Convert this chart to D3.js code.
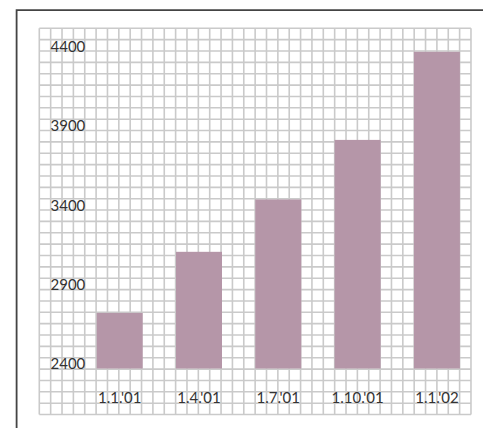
<!DOCTYPE html>
<html>
<head>
<meta charset="utf-8">
<script src="https://cdn.jsdelivr.net/npm/d3@7"></script>
<style>
  html, body { margin: 0; padding: 0; background: #fff; }
  svg { display: block; }
  text { font-family: "Lato", "DejaVu Sans", sans-serif; font-weight: 400; fill: #333; }
</style>
</head>
<body>
<svg id="chart" width="483" height="428"></svg>
<script>
// Quarterly values
const categories = ["1.1.'01", "1.4.'01", "1.7.'01", "1.10.'01", "1.1.'02"];
const values = [2750, 3135, 3465, 3840, 4395];
const yTicks = [2400, 2900, 3400, 3900, 4400];

const svg = d3.select("#chart");

// Graph-paper background
const grid = { x0: 39.3, y0: 28.3, cell: 11.36, cols: 38, rows: 34 };
const gx1 = grid.x0 + grid.cols * grid.cell;
const gy1 = grid.y0 + grid.rows * grid.cell;
const gridG = svg.append("g").attr("stroke", "#cacaca").attr("stroke-width", 1.6);
gridG.selectAll("line.v").data(d3.range(grid.cols + 1)).join("line")
  .attr("class", "v")
  .attr("x1", i => grid.x0 + i * grid.cell).attr("x2", i => grid.x0 + i * grid.cell)
  .attr("y1", grid.y0).attr("y2", gy1);
gridG.selectAll("line.h").data(d3.range(grid.rows + 1)).join("line")
  .attr("class", "h")
  .attr("y1", i => grid.y0 + i * grid.cell).attr("y2", i => grid.y0 + i * grid.cell)
  .attr("x1", grid.x0).attr("x2", gx1);

// Outer frame (top and left edges)
svg.append("path")
  .attr("d", "M16.6,428 V10.2 H483")
  .attr("fill", "none").attr("stroke", "#444").attr("stroke-width", 1.8);

// Scales
const x = d3.scaleBand()
  .domain(categories)
  .range([80.05, 476.55])
  .paddingInner(0.42)
  .paddingOuter(0.21);

const y = d3.scaleLinear()
  .domain([2400, 4400])
  .range([368.5, 51]);

// Bars
svg.append("g").selectAll("rect").data(values).join("rect")
  .attr("x", (d, i) => x(categories[i]))
  .attr("width", x.bandwidth())
  .attr("y", d => y(d))
  .attr("height", d => y(2400) - y(d))
  .attr("fill", "#b596a8");

// Y labels
svg.append("g").selectAll("text").data(yTicks).join("text")
  .attr("x", 50.5)
  .attr("y", d => y(d) + 0.8)
  .attr("font-size", 15)
  .text(d => d);

// Category labels
svg.append("g").selectAll("text").data(categories).join("text")
  .attr("x", d => x(d) + x.bandwidth() / 2)
  .attr("y", 402.5)
  .attr("text-anchor", "middle")
  .attr("font-size", 15)
  .text(d => d);
</script>
</body>
</html>
